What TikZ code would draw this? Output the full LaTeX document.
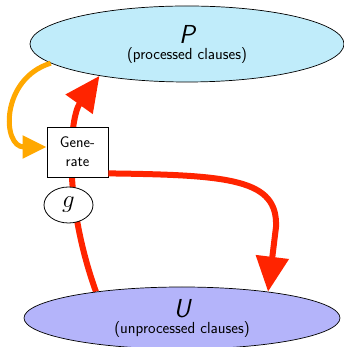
\documentclass[tikz,border=0pt]{standalone}
\usetikzlibrary{arrows.meta,shapes.geometric}
\definecolor{pfill}{RGB}{192,236,250}
\definecolor{ufill}{RGB}{180,180,250}
\definecolor{flowred}{RGB}{255,36,0}
\definecolor{floworange}{RGB}{255,168,0}
\pgfdeclarelayer{back}
\pgfsetlayers{back,main}
\tikzset{
  store/.style={ellipse, draw, line width=0.7pt, inner sep=0pt, align=center, font=\sffamily\fontsize{16}{16}\selectfont},
  procbox/.style={draw, fill=white, line width=0.8pt, minimum width=61pt, minimum height=50pt, align=center, inner sep=0pt, font=\sffamily\fontsize{15.5}{19}\selectfont},
  lbl/.style={ellipse, draw, fill=white, line width=0.8pt, minimum width=49pt, minimum height=36pt, inner sep=0pt},
  redflow/.style={draw=flowred, line width=6pt, -{Triangle[length=35pt,width=32pt]}},
  orangeflow/.style={draw=floworange, line width=5pt, -{Triangle[length=24pt,width=22pt]}}
}
\begin{document}
\begin{tikzpicture}[x=1pt,y=1pt]
\useasboundingbox (0,0) rectangle (344,347);
\node[store, fill=pfill, minimum width=314pt, minimum height=76pt] (P) at (187,303)
  {{\fontsize{26}{22}\selectfont\itshape P}\\(processed clauses)};
\node[store, fill=ufill, minimum width=316pt, minimum height=62pt] (U) at (182,29)
  {{\fontsize{26}{22}\selectfont\itshape U}\\(unprocessed clauses)};
\node[procbox] (gen) at (77.5,195) {Gene-\\rate};
\node[lbl] (g) at (68.5,142) {\fontsize{24.88}{26}\selectfont$g$};
\begin{pgfonlayer}{back}
  \draw[redflow] (U.163) .. controls (62,150) and (70,230) .. (P.200);
\end{pgfonlayer}
\draw[redflow] ([yshift=4pt]gen.south east) .. controls (230,172) and (278,168) .. (276,120) -- (U.17);
\draw[orangeflow] (P.188) .. controls (0,268) and (2,200) .. ([yshift=5pt]gen.west);
\end{tikzpicture}
\end{document}
